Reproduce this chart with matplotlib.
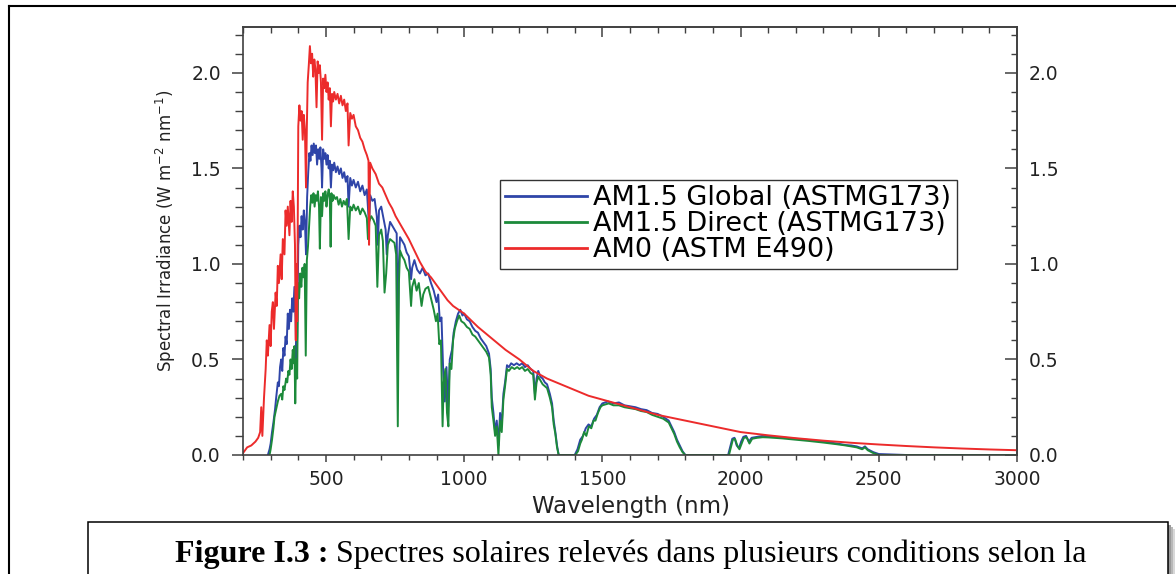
import matplotlib
matplotlib.use("Agg")
import matplotlib.pyplot as plt
from matplotlib.patches import Rectangle
from matplotlib.lines import Line2D
from matplotlib.ticker import MultipleLocator, FixedLocator, FormatStrFormatter

# AM0 (ASTM E490)
am0_wl = [200, 215, 230, 245, 255, 262, 266, 270, 276, 282,
          286, 290, 296, 300, 304, 308, 312, 318, 322, 326,
          330, 336, 340, 344, 350, 354, 358, 362, 368, 372,
          376, 380, 384, 388, 391, 393, 396, 400, 404, 408,
          412, 416, 420, 424, 428, 431, 434, 438, 442, 446,
          450, 454, 458, 462, 466, 470, 474, 478, 482, 486,
          490, 494, 498, 502, 506, 510, 514, 518, 522, 526,
          530, 536, 542, 548, 554, 560, 566, 572, 578, 582,
          588, 594, 600, 608, 616, 624, 632, 640, 648, 654,
          656, 660, 668, 680, 692, 704, 716, 728, 740, 752,
          764, 776, 788, 800, 820, 840, 860, 880, 900, 920,
          940, 960, 980, 1000, 1050, 1100, 1150, 1200, 1250, 1300,
          1350, 1400, 1450, 1500, 1550, 1600, 1650, 1700, 1750, 1800,
          1850, 1900, 1950, 2000, 2100, 2200, 2300, 2400, 2500, 2600,
          2700, 2800, 2900, 3000]
am0_irr = [0.01, 0.04, 0.05, 0.07, 0.09, 0.12, 0.25, 0.10, 0.30, 0.45,
           0.60, 0.52, 0.68, 0.57, 0.75, 0.80, 0.66, 0.85, 0.78, 0.99,
           0.90, 1.05, 0.92, 1.13, 1.05, 1.28, 1.20, 1.30, 1.15, 1.33,
           1.22, 1.38, 1.30, 1.10, 0.60, 1.00, 0.70, 1.72, 1.83, 1.75,
           1.80, 1.65, 1.78, 1.70, 1.40, 1.72, 1.95, 2.04, 2.14, 2.05,
           2.10, 1.98, 2.07, 2.02, 1.82, 2.06, 2.00, 2.04, 1.95, 1.65,
           1.97, 1.92, 1.99, 1.90, 1.95, 1.86, 1.92, 1.72, 1.89, 1.85,
           1.90, 1.86, 1.89, 1.84, 1.88, 1.83, 1.86, 1.80, 1.84, 1.62,
           1.79, 1.76, 1.78, 1.72, 1.70, 1.66, 1.64, 1.60, 1.57, 1.54,
           1.10, 1.53, 1.50, 1.47, 1.42, 1.40, 1.36, 1.32, 1.29, 1.25,
           1.22, 1.19, 1.16, 1.13, 1.07, 1.01, 0.96, 0.93, 0.89, 0.85,
           0.81, 0.78, 0.76, 0.74, 0.67, 0.61, 0.55, 0.50, 0.44, 0.40,
           0.37, 0.34, 0.31, 0.29, 0.27, 0.25, 0.23, 0.21, 0.195, 0.18,
           0.165, 0.15, 0.135, 0.12, 0.103, 0.088, 0.075, 0.064, 0.055, 0.047,
           0.040, 0.034, 0.029, 0.025]

# AM1.5 Global (ASTM G173)
glob_wl = [290, 296, 300, 305, 310, 316, 320, 326, 330, 334,
           338, 342, 346, 350, 354, 358, 362, 366, 370, 374,
           378, 382, 386, 390, 393, 396, 400, 404, 408, 412,
           416, 420, 424, 428, 432, 436, 440, 444, 448, 452,
           456, 460, 464, 468, 472, 476, 480, 484, 486, 490,
           494, 498, 502, 506, 510, 514, 518, 522, 526, 530,
           536, 542, 548, 554, 560, 566, 572, 578, 582, 588,
           594, 600, 608, 616, 624, 632, 640, 648, 656, 660,
           668, 676, 684, 688, 692, 700, 708, 716, 720, 724,
           732, 740, 748, 756, 760, 764, 768, 776, 784, 792,
           800, 808, 812, 820, 830, 840, 850, 860, 870, 880,
           890, 900, 906, 912, 918, 924, 930, 936, 942, 948,
           956, 962, 970, 978, 986, 994, 1000, 1010, 1020, 1030,
           1040, 1050, 1060, 1070, 1080, 1090, 1096, 1100, 1106, 1112,
           1118, 1124, 1130, 1136, 1142, 1148, 1155, 1162, 1170, 1180,
           1190, 1200, 1210, 1220, 1230, 1240, 1250, 1256, 1262, 1268,
           1276, 1284, 1292, 1300, 1310, 1318, 1324, 1330, 1336, 1342,
           1400, 1410, 1420, 1430, 1440, 1450, 1460, 1470, 1480, 1490,
           1500, 1520, 1540, 1560, 1580, 1600, 1620, 1640, 1660, 1680,
           1700, 1720, 1740, 1750, 1760, 1770, 1780, 1790, 1800, 1955,
           1962, 1970, 1978, 1986, 1994, 2002, 2010, 2020, 2030, 2040,
           2060, 2080, 2100, 2150, 2200, 2250, 2300, 2350, 2380, 2400,
           2420, 2440, 2450, 2460, 2480, 2500, 2600, 3000]
glob_irr = [0.0, 0.03, 0.06, 0.12, 0.17, 0.24, 0.30, 0.38, 0.36, 0.46,
            0.50, 0.44, 0.56, 0.52, 0.62, 0.58, 0.74, 0.66, 0.76, 0.70,
            0.82, 0.75, 0.88, 0.72, 0.50, 0.62, 1.10, 1.20, 1.14, 1.25,
            1.18, 1.28, 1.22, 1.05, 1.35, 1.48, 1.58, 1.54, 1.62, 1.57,
            1.63, 1.58, 1.62, 1.52, 1.60, 1.55, 1.61, 1.50, 1.40, 1.60,
            1.55, 1.58, 1.52, 1.57, 1.50, 1.54, 1.40, 1.52, 1.49, 1.53,
            1.48, 1.51, 1.47, 1.50, 1.45, 1.48, 1.43, 1.46, 1.30, 1.45,
            1.41, 1.44, 1.40, 1.43, 1.38, 1.41, 1.36, 1.39, 1.20, 1.36,
            1.33, 1.34, 1.25, 1.10, 1.28, 1.30, 1.24, 1.18, 1.05, 1.15,
            1.22, 1.20, 1.18, 1.16, 0.55, 1.00, 1.14, 1.12, 1.10, 1.06,
            1.04, 0.92, 0.98, 1.02, 0.97, 0.95, 0.98, 0.94, 0.95, 0.90,
            0.86, 0.80, 0.84, 0.70, 0.72, 0.45, 0.28, 0.46, 0.25, 0.50,
            0.55, 0.64, 0.70, 0.74, 0.76, 0.73, 0.74, 0.71, 0.70, 0.67,
            0.65, 0.64, 0.61, 0.59, 0.57, 0.53, 0.45, 0.30, 0.22, 0.12,
            0.18, 0.05, 0.22, 0.16, 0.32, 0.38, 0.47, 0.46, 0.48, 0.47,
            0.48, 0.47, 0.48, 0.46, 0.47, 0.45, 0.44, 0.32, 0.40, 0.44,
            0.41, 0.40, 0.38, 0.37, 0.32, 0.27, 0.18, 0.12, 0.05, 0.0,
            0.0, 0.03, 0.08, 0.10, 0.14, 0.16, 0.15, 0.19, 0.21, 0.25,
            0.27, 0.28, 0.27, 0.275, 0.26, 0.255, 0.25, 0.24, 0.235, 0.22,
            0.215, 0.20, 0.18, 0.15, 0.12, 0.08, 0.05, 0.02, 0.0, 0.0,
            0.04, 0.085, 0.09, 0.05, 0.035, 0.07, 0.095, 0.10, 0.07, 0.09,
            0.095, 0.10, 0.098, 0.092, 0.085, 0.078, 0.07, 0.06, 0.052, 0.05,
            0.045, 0.035, 0.045, 0.03, 0.015, 0.005, 0.0, 0.0]

# AM1.5 Direct (ASTM G173)
dir_wl = [296, 300, 305, 310, 314, 320, 326, 332, 338, 342,
          346, 350, 356, 360, 364, 368, 372, 376, 380, 384,
          386, 389, 392, 396, 399, 403, 407, 411, 415, 419,
          423, 427, 431, 435, 439, 443, 447, 451, 455, 459,
          463, 467, 471, 475, 478, 482, 486, 490, 494, 498,
          502, 506, 510, 514, 517, 520, 524, 528, 534, 540,
          546, 552, 558, 564, 570, 576, 582, 588, 594, 600,
          608, 616, 624, 632, 640, 648, 652, 656, 664, 672,
          680, 686, 692, 700, 706, 712, 718, 724, 732, 740,
          748, 754, 760, 764, 768, 776, 784, 792, 800, 808,
          812, 820, 828, 836, 846, 852, 860, 870, 880, 890,
          898, 904, 910, 916, 922, 926, 932, 938, 943, 948,
          954, 960, 966, 974, 982, 990, 1000, 1010, 1020, 1030,
          1040, 1050, 1060, 1070, 1080, 1090, 1096, 1100, 1106, 1112,
          1118, 1124, 1130, 1136, 1142, 1148, 1155, 1162, 1172, 1182,
          1192, 1200, 1210, 1220, 1230, 1240, 1250, 1256, 1262, 1268,
          1276, 1284, 1292, 1300, 1310, 1318, 1324, 1330, 1336, 1342,
          1402, 1412, 1420, 1426, 1434, 1442, 1451, 1460, 1468, 1475,
          1484, 1493, 1500, 1523, 1540, 1560, 1580, 1600, 1620, 1640,
          1660, 1680, 1700, 1720, 1740, 1750, 1760, 1770, 1780, 1790,
          1800, 1958, 1965, 1972, 1980, 1988, 1996, 2004, 2012, 2022,
          2032, 2042, 2060, 2080, 2100, 2150, 2200, 2250, 2300, 2350,
          2380, 2400, 2420, 2440, 2450, 2460, 2480, 2500, 3000]
dir_irr = [0.0, 0.03, 0.08, 0.14, 0.20, 0.24, 0.28, 0.31, 0.32, 0.29,
           0.36, 0.34, 0.40, 0.38, 0.44, 0.42, 0.50, 0.45, 0.55, 0.48,
           0.57, 0.27, 0.50, 0.40, 0.90, 0.82, 0.95, 0.88, 0.98, 0.93,
           1.00, 0.52, 1.02, 1.09, 1.20, 1.30, 1.36, 1.32, 1.37, 1.30,
           1.36, 1.33, 1.38, 1.30, 1.08, 1.35, 1.25, 1.37, 1.33, 1.38,
           1.30, 1.36, 1.39, 1.34, 1.09, 1.37, 1.33, 1.36, 1.34, 1.35,
           1.31, 1.34, 1.30, 1.33, 1.31, 1.34, 1.13, 1.30, 1.28, 1.31,
           1.28, 1.30, 1.26, 1.29, 1.27, 1.24, 1.13, 1.22, 1.25, 1.23,
           1.20, 0.88, 1.15, 1.18, 1.12, 0.85, 0.95, 1.10, 1.13, 1.12,
           1.11, 1.05, 0.15, 0.90, 1.07, 1.04, 1.02, 0.98, 0.96, 0.78,
           0.88, 0.92, 0.86, 0.90, 0.78, 0.84, 0.87, 0.88, 0.82, 0.76,
           0.70, 0.74, 0.58, 0.60, 0.15, 0.38, 0.45, 0.22, 0.15, 0.48,
           0.45, 0.60, 0.66, 0.70, 0.73, 0.70, 0.69, 0.67, 0.66, 0.63,
           0.62, 0.60, 0.58, 0.56, 0.54, 0.51, 0.42, 0.25, 0.18, 0.10,
           0.15, 0.0, 0.18, 0.12, 0.29, 0.36, 0.45, 0.44, 0.46, 0.45,
           0.46, 0.45, 0.46, 0.44, 0.45, 0.43, 0.42, 0.29, 0.38, 0.41,
           0.39, 0.37, 0.36, 0.35, 0.30, 0.25, 0.16, 0.11, 0.04, 0.0,
           0.0, 0.02, 0.06, 0.08, 0.12, 0.10, 0.15, 0.14, 0.18, 0.18,
           0.22, 0.25, 0.26, 0.27, 0.26, 0.26, 0.25, 0.245, 0.24, 0.23,
           0.225, 0.21, 0.20, 0.19, 0.17, 0.14, 0.11, 0.07, 0.04, 0.015,
           0.0, 0.0, 0.04, 0.08, 0.084, 0.05, 0.03, 0.06, 0.09, 0.092,
           0.06, 0.085, 0.09, 0.093, 0.092, 0.087, 0.08, 0.073, 0.065, 0.056,
           0.05, 0.045, 0.04, 0.03, 0.04, 0.025, 0.01, 0.0, 0.0]

labels = ["AM1.5 Global (ASTMG173)", "AM1.5 Direct (ASTMG173)", "AM0 (ASTM E490)"]
y_major = [0.0, 0.5, 1.0, 1.5, 2.0]
y_minor = [0.1, 0.2, 0.3, 0.4, 0.6, 0.7, 0.8, 0.9, 1.1, 1.2, 1.3, 1.4,
           1.6, 1.7, 1.8, 1.9, 2.1, 2.2]
x_major = [500, 1000, 1500, 2000, 2500, 3000]
caption_bold = "Figure I.3 :"
caption_text = "Spectres solaires relevés dans plusieurs conditions selon la"

W, H = 1176, 574


def fx(px):
    return px / W


def fy(py):
    return 1 - py / H


plt.rcParams['font.family'] = ['DejaVu Sans']
fig = plt.figure(figsize=(W / 100, H / 100), dpi=100)

# outer frame (runs off the right and bottom edge)
fig.add_artist(Line2D([fx(9), fx(9)], [fy(6), fy(590)], color='black', lw=1.5))
fig.add_artist(Line2D([fx(9), fx(1190)], [fy(6), fy(6)], color='black', lw=1.5))

ax = fig.add_axes([fx(243), fy(455), (1017 - 243) / W, (455 - 27) / H])

ax.plot(glob_wl, glob_irr, color='#2f45a8', lw=1.4, label=labels[0])
ax.plot(dir_wl, dir_irr, color='#1c8a3a', lw=1.4, label=labels[1])
ax.plot(am0_wl, am0_irr, color='#ec2b2b', lw=1.4, label=labels[2])

ax.set_xlim(200, 3000)
ax.set_ylim(0, 2.24)
ax.xaxis.set_major_locator(FixedLocator(x_major))
ax.xaxis.set_minor_locator(MultipleLocator(100))
ax.yaxis.set_major_locator(FixedLocator(y_major))
ax.yaxis.set_minor_locator(FixedLocator(y_minor))
ax.yaxis.set_major_formatter(FormatStrFormatter('%.1f'))

spine_col = '#404040'
for s in ax.spines.values():
    s.set_color(spine_col)
    s.set_linewidth(1.2)

ax.tick_params(axis='x', which='major', direction='out', length=5, width=1.1,
               color=spine_col, pad=5.5, labelsize=13.5, labelcolor='#222222')
ax.tick_params(axis='x', which='minor', direction='out', length=3.5, width=1.0,
               color=spine_col)
ax.tick_params(axis='y', which='major', direction='out', length=8, width=1.1,
               color=spine_col, pad=8, labelsize=13.5, labelcolor='#222222')
ax.tick_params(axis='y', which='minor', direction='out', length=5.5, width=1.0,
               color=spine_col)

# right axis: inward ticks with labels
secy = ax.secondary_yaxis('right')
secy.yaxis.set_major_locator(FixedLocator(y_major))
secy.yaxis.set_minor_locator(FixedLocator(y_minor))
secy.yaxis.set_major_formatter(FormatStrFormatter('%.1f'))
secy.tick_params(which='major', direction='in', length=8.5, width=1.1,
                 color=spine_col, pad=8.5, labelsize=13.5, labelcolor='#222222')
secy.tick_params(which='minor', direction='in', length=4.5, width=1.0, color=spine_col)
secy.spines['right'].set_color(spine_col)
secy.spines['right'].set_linewidth(1.2)

# top axis: inward ticks, no labels
secx = ax.secondary_xaxis('top')
secx.xaxis.set_major_locator(FixedLocator(x_major))
secx.xaxis.set_minor_locator(MultipleLocator(100))
secx.tick_params(which='major', direction='in', length=7, width=1.1,
                 color=spine_col, labeltop=False)
secx.tick_params(which='minor', direction='in', length=4.5, width=1.0, color=spine_col)
secx.spines['top'].set_color(spine_col)
secx.spines['top'].set_linewidth(1.2)

ax.set_xlabel("Wavelength (nm)", fontsize=16.5, color='#222222')
ax.xaxis.set_label_coords(0.501, -0.093)
ax.xaxis.label.set_va('top')
ax.set_ylabel("Spectral Irradiance (W m$^{-2}$ nm$^{-1}$)", fontsize=12, color='#222222')
ax.yaxis.set_label_coords(-0.084, 0.523)

leg = ax.legend(loc='upper left', bbox_to_anchor=((500 - 243) / 774, (455 - 180) / 428),
                borderaxespad=0, fontsize=19.5, frameon=True, fancybox=False,
                edgecolor='#333333', framealpha=1, handlelength=3.0,
                handletextpad=0.25, labelspacing=0.0, borderpad=0.2)
leg.get_frame().set_linewidth(1.0)
for ln in leg.get_lines():
    ln.set_linewidth(2.0)

# caption box with a soft shadow on the right
for k, c in [(7, '#d8d8d8'), (5, '#b8b8b8'), (3, '#9a9a9a')]:
    fig.add_artist(Rectangle((fx(88 + k), fy(640)), (1168 - 88) / W, (640 - 522 - k) / H,
                             facecolor=c, edgecolor='none'))
fig.add_artist(Rectangle((fx(88), fy(640)), (1168 - 88) / W, (640 - 522) / H,
                         facecolor='white', edgecolor='black', lw=1.1))

t1 = fig.text(fx(175), fy(562), caption_bold, fontsize=23, fontweight='bold',
              family='Liberation Serif', va='baseline', ha='left')
fig.canvas.draw()
x_end = t1.get_window_extent().x1 / W
fig.text(x_end + 8 / W, fy(562), caption_text, fontsize=23,
         family='Liberation Serif', va='baseline', ha='left')

fig.savefig('out.png', dpi=100)
